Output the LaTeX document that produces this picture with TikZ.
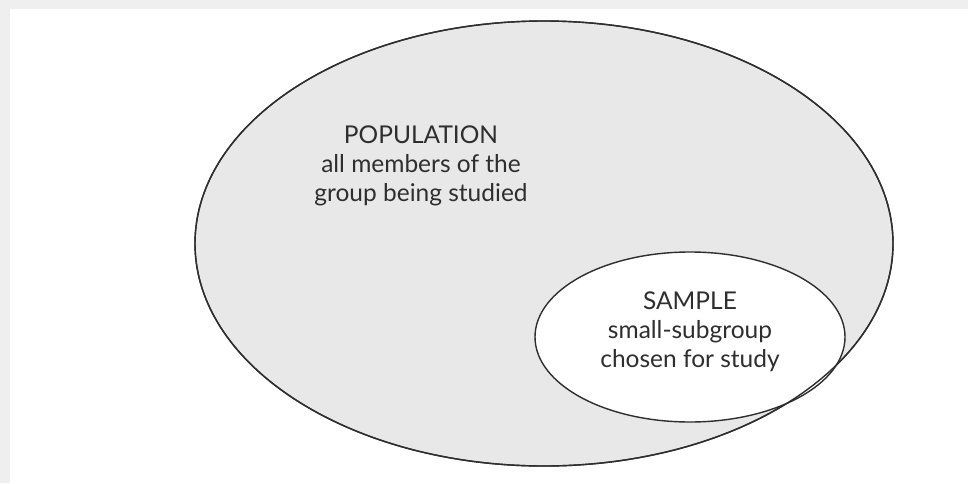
\documentclass[tikz,border=0pt]{standalone}
\usepackage{fontspec}
\setmainfont{Lato}
\usetikzlibrary{shapes.geometric}
\definecolor{inkgray}{HTML}{2E2E2E}
\definecolor{fillgray}{HTML}{E8E8E8}
\definecolor{framegray}{HTML}{EFEFEF}
\tikzset{
  setbox/.style={ellipse, draw=inkgray, line width=1.4pt, inner sep=0pt, outer sep=0pt},
  label/.style={align=center, text=inkgray, inner sep=0pt, font=\fontsize{24.5}{29}\selectfont},
}
\begin{document}
\begin{tikzpicture}[x=1pt, y=1pt]
  % page and its thin grey frame along the top and left
  \useasboundingbox (0,0) rectangle (968,483);
  \fill[white] (0,0) rectangle (968,483);
  \fill[framegray] (0,474) rectangle (968,483);
  \fill[framegray] (0,0) rectangle (10,483);

  % population and the sample inside it
  \node[setbox, fill=fillgray, minimum width=698pt, minimum height=445pt] (pop) at (544,239.5) {};
  \node[setbox, fill=white, draw=none, minimum width=310pt, minimum height=170pt] (smpfill) at (690,146) {};
  \draw[inkgray, line width=1.4pt] (pop.center) ellipse [x radius=349, y radius=222.5];
  \node[setbox, minimum width=310pt, minimum height=170pt] (smp) at (690,146) {};

  % texts
  \node[label] (poptext) at (421,317)
    {POPULATION\\all members of the\\group being studied};
  \node[label] (smptext) at (690,151)
    {SAMPLE\\small-subgroup\\chosen for study};
\end{tikzpicture}
\end{document}
